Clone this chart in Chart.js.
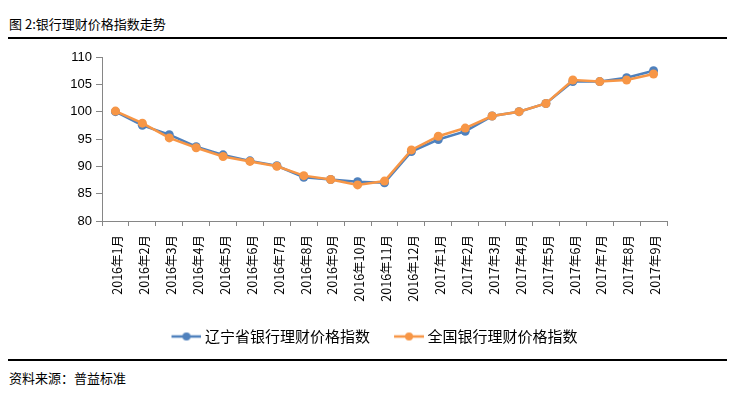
<!DOCTYPE html>
<html>
<head>
<meta charset="utf-8">
<script src="https://cdn.jsdelivr.net/npm/chart.js@4.4.0/dist/chart.umd.min.js"></script>
<style>
  body { margin: 0; background: #fff; width: 733px; height: 393px; overflow: hidden; position: relative;
         font-family: "Noto Sans CJK SC", sans-serif; }
  .title { position: absolute; left: 9px; top: 14px; font-size: 13px; color: #000; }
  .rule { position: absolute; left: 8px; right: 6px; height: 1.5px; background: #000; }
  .source { position: absolute; left: 9px; top: 368px; font-size: 13px; color: #000; }
  .chart-box { position: absolute; left: 0; top: 40px; width: 733px; height: 314px; }
</style>
</head>
<body>
<div class="title">图 2:银行理财价格指数走势</div>
<div class="rule" style="top:37px"></div>
<div class="chart-box"><canvas id="myChart"></canvas></div>
<div class="rule" style="top:359px"></div>
<div class="source">资料来源：普益标准</div>

<script>
// months on the x axis
const months = [
  "2016年1月", "2016年2月", "2016年3月", "2016年4月", "2016年5月", "2016年6月",
  "2016年7月", "2016年8月", "2016年9月", "2016年10月", "2016年11月", "2016年12月",
  "2017年1月", "2017年2月", "2017年3月", "2017年4月", "2017年5月", "2017年6月",
  "2017年7月", "2017年8月", "2017年9月"
];
const liaoning = [100, 97.5, 95.8, 93.6, 92.1, 91.0, 90.1, 88.0, 87.6, 87.2, 87.0, 92.7,
                  94.9, 96.4, 99.2, 100.0, 101.5, 105.5, 105.5, 106.2, 107.5];
const national = [100.1, 97.9, 95.2, 93.4, 91.8, 90.9, 90.0, 88.3, 87.6, 86.6, 87.3, 93.0,
                  95.5, 97.0, 99.2, 100.0, 101.5, 105.8, 105.5, 105.8, 106.9];
const yTicks = [80, 85, 90, 95, 100, 105, 110];

const BLUE = "#4F81BD";
const ORANGE = "#F79646";
const AXIS = "#868686";

// legend marker: a line with a dot, with some empty room on the left
// so the two legend entries sit further apart
function legendMarker(color) {
  const c = document.createElement("canvas");
  c.width = 50; c.height = 10;
  const g = c.getContext("2d");
  g.strokeStyle = color; g.lineWidth = 2.5;
  g.beginPath(); g.moveTo(20, 5); g.lineTo(50, 5); g.stroke();
  g.fillStyle = color;
  g.beginPath(); g.arc(35, 5, 4, 0, Math.PI * 2); g.fill();
  return c;
}
const markers = [legendMarker(BLUE), legendMarker(ORANGE)];

const ctx = document.getElementById("myChart").getContext("2d");
new Chart(ctx, {
  type: "line",
  data: {
    labels: months,
    datasets: [{
      label: "辽宁省银行理财价格指数",
      data: liaoning,
      borderColor: BLUE,
      backgroundColor: BLUE,
      borderWidth: 2.5,
      pointRadius: 4.5,
      pointBorderWidth: 0,
      order: 1
    }, {
      label: "全国银行理财价格指数",
      data: national,
      borderColor: ORANGE,
      backgroundColor: ORANGE,
      borderWidth: 2.5,
      pointRadius: 4.5,
      pointBorderWidth: 0,
      order: 0
    }]
  },
  options: {
    responsive: true,
    maintainAspectRatio: false,
    animation: false,
    layout: { padding: { top: 17, right: 0, left: 0, bottom: 0 } },
    plugins: {
      tooltip: { enabled: false },
      legend: {
        position: "bottom",
        labels: {
          usePointStyle: true,
          pointStyleWidth: 42,
          padding: 8,
          color: "#000",
          font: { family: "'Noto Sans CJK SC', sans-serif", size: 15 },
          sort: (a, b) => a.datasetIndex - b.datasetIndex,
          generateLabels: (chart) => {
            const items = Chart.defaults.plugins.legend.labels.generateLabels(chart);
            items.forEach(it => { it.pointStyle = markers[it.datasetIndex]; });
            return items;
          }
        }
      }
    },
    scales: {
      x: {
        offset: true,
        grid: { offset: true, drawOnChartArea: false, tickLength: 5, color: AXIS },
        border: { color: AXIS, width: 1 },
        ticks: {
          autoSkip: false,
          minRotation: 90,
          maxRotation: 90,
          padding: 9,
          labelOffset: 2,
          color: "#000",
          font: { family: "'Noto Sans CJK SC', sans-serif", size: 12.5 }
        },
        afterFit: (scale) => { scale.height = 100; }
      },
      y: {
        min: 80,
        max: 110,
        afterBuildTicks: (scale) => { scale.ticks = yTicks.map(v => ({ value: v })); },
        grid: { drawOnChartArea: false, tickLength: 6, color: AXIS },
        border: { color: AXIS, width: 1 },
        ticks: {
          padding: 4,
          color: "#000",
          font: { family: "'Liberation Sans', sans-serif", size: 13 }
        },
        afterFit: (scale) => { scale.width = 102; }
      },
      // empty right-hand spacer so the plot ends where the original does
      // while the legend stays centred on the whole page
      spacer: {
        type: "linear",
        position: "right",
        grid: { display: false },
        border: { display: false },
        ticks: { display: false },
        afterFit: (scale) => { scale.width = 66; }
      }
    }
  }
});
</script>
</body>
</html>
